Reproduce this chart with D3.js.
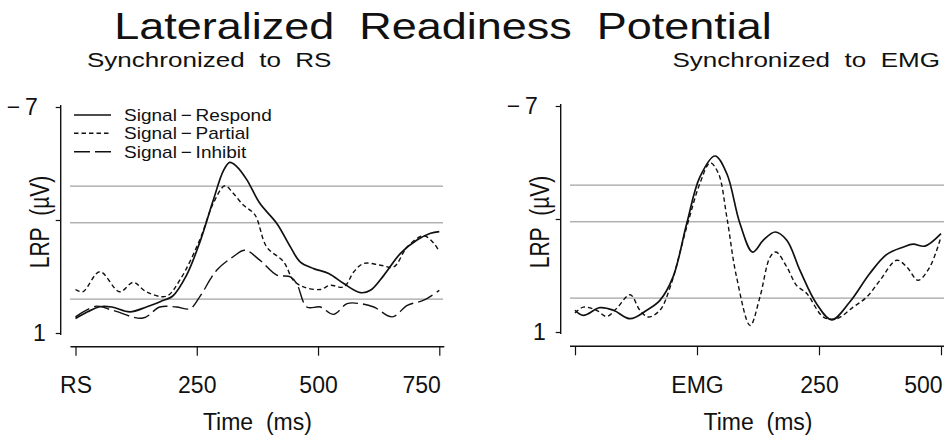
<!DOCTYPE html>
<html>
<head>
<meta charset="utf-8">
<script src="https://cdn.jsdelivr.net/npm/d3@7"></script>
<style>
  html, body { margin: 0; padding: 0; background: #fff; }
  svg { display: block; }
  text { font-family: "Liberation Sans", Arial, Helvetica, sans-serif; fill: #111; }
</style>
</head>
<body>
<svg id="chart" width="944" height="438"></svg>
<script>
// ---------------- DATA ----------------
const titleText = "Lateralized\u00a0\u00a0Readiness\u00a0\u00a0Potential";
const panelTitles = ["Synchronized\u00a0\u00a0to\u00a0\u00a0RS", "Synchronized\u00a0\u00a0to\u00a0\u00a0EMG"];
const seriesNames = ["Signal\u2009\u2212\u2009Respond", "Signal\u2009\u2212\u2009Partial", "Signal\u2009\u2212\u2009Inhibit"];
const yTicks = [-7, -3, 1];
const yTickLabels = {"-7": "\u2212\u20097", "-3": "", "1": "1"};
const refLines = [-4.2, -2.9, -0.2];

const leftXTicks = [0, 250, 500, 750];
const leftXTickLabels = ["RS", "250", "500", "750"];
const rightXTicks = [-250, 0, 250, 500];
const rightXTickLabels = ["", "EMG", "250", "500"];

// Synchronized to RS: [time (ms), LRP (µV)]
const leftRespond = [[0,0.49],[25,0.25],[50,0.07],[75,0.08],[112,0.25],[146,0.08],[180,-0.15],[200,-0.3],[229,-1.05],[256,-2.2],[284,-3.7],[305,-4.75],[318,-5.04],[332,-4.9],[353,-4.43],[380,-3.59],[415,-2.88],[443,-2.05],[463,-1.52],[491,-1.28],[522,-1.11],[553,-0.75],[587,-0.43],[608,-0.51],[636,-1.05],[670,-1.82],[704,-2.29],[732,-2.53],[750,-2.59]];
const leftPartial = [[0,-0.54],[15,-0.46],[50,-1.17],[91,-0.46],[119,-0.79],[146,-0.46],[187,-0.3],[215,-0.87],[256,-2.29],[284,-3.59],[308,-4.21],[325,-3.95],[346,-3.53],[370,-3.18],[394,-2.05],[429,-1.52],[449,-0.87],[470,-0.63],[505,-0.54],[525,-0.69],[553,-0.63],[574,-1.17],[594,-1.46],[629,-1.4],[656,-1.34],[684,-2.05],[718,-2.44],[739,-2.17],[750,-1.88]];
const leftInhibit = [[0,0.43],[43,0.05],[77,0.2],[139,0.47],[174,0.08],[208,0.08],[236,0.14],[256,-0.28],[291,-1.22],[325,-1.7],[349,-1.93],[380,-1.58],[415,-1.05],[443,-0.99],[456,-0.75],[477,0.08],[505,0.08],[532,0.34],[560,-0.04],[587,-0.04],[615,0.08],[653,0.43],[684,0.02],[718,-0.16],[750,-0.51]];

// Synchronized to EMG
const rightRespond = [[-250,0.23],[-233,0.41],[-199,0.14],[-171,0.23],[-137,0.53],[-103,0.23],[-76,-0.12],[-49,-0.95],[-21,-2.84],[6,-4.49],[37,-5.23],[61,-4.61],[88,-2.84],[114,-1.83],[136,-2.25],[160,-2.54],[184,-2.25],[211,-1.18],[245,0.0],[276,0.57],[313,-0.06],[354,-1.07],[389,-1.75],[423,-2.01],[443,-2.11],[467,-2.04],[500,-2.48]];
const rightPartial = [[-250,0.33],[-233,0.12],[-206,0.23],[-185,0.45],[-165,0.17],[-137,-0.32],[-117,0.23],[-100,0.47],[-76,0.23],[-55,-0.59],[-21,-2.72],[6,-4.26],[27,-4.99],[44,-4.61],[61,-3.08],[81,-0.95],[109,0.77],[129,-0.24],[150,-1.66],[162,-1.83],[184,-1.3],[204,-0.65],[225,-0.36],[259,0.47],[286,0.53],[320,0.12],[348,-0.24],[375,-0.83],[409,-1.54],[430,-1.3],[453,-0.83],[477,-1.3],[500,-2.37]];

// ---------------- STYLE ----------------
const ink = "#111";
const dashStyles = [null, "4.5,3", "16,5"];
const lineWidths = [1.7, 1.4, 1.4];

const svg = d3.select("#chart");

// Title
svg.append("text")
  .attr("transform", "translate(443,39) scale(1.25,1)")
  .attr("text-anchor", "middle")
  .attr("font-size", 36)
  .text(titleText);

function panel(cfg) {
  const x = d3.scaleLinear().domain(cfg.xDomain).range(cfg.xRange);
  const y = d3.scaleLinear().domain([-7, 1]).range(cfg.yRange);
  const g = svg.append("g");

  // reference lines
  g.selectAll("line.ref").data(refLines).join("line")
    .attr("x1", cfg.gridX[0]).attr("x2", cfg.gridX[1])
    .attr("y1", d => y(d)).attr("y2", d => y(d))
    .attr("stroke", "#8c8c8c").attr("stroke-width", 1);

  // y axis
  const ya = d3.axisLeft(y).tickValues(yTicks).tickSize(5).tickSizeOuter(0)
    .tickFormat(d => yTickLabels[String(d)]).tickPadding(14);
  const yg = g.append("g").attr("transform", `translate(${cfg.axisX},0)`).call(ya);
  yg.select(".domain").remove();
  yg.append("line").attr("x1", 0).attr("x2", 0)
    .attr("y1", cfg.yRange[0] - 2).attr("y2", cfg.yRange[1] + 2)
    .attr("stroke", ink).attr("stroke-width", 1.4);
  yg.selectAll(".tick line").attr("stroke", ink).attr("stroke-width", 1.2);
  yg.selectAll(".tick text").attr("font-size", 23).attr("fill", ink)
    .attr("font-family", '"Liberation Sans", Arial, sans-serif')
    .attr("dx", d => d === 1 ? 4 : -4);

  // x axis
  const xa = d3.axisBottom(x).tickValues(cfg.xTicks).tickSize(9).tickSizeOuter(0)
    .tickFormat((d, i) => cfg.xTickLabels[i]).tickPadding(21);
  const xg = g.append("g").attr("transform", `translate(0,${cfg.axisY})`).call(xa);
  xg.select(".domain").remove();
  xg.append("line").attr("y1", 0).attr("y2", 0)
    .attr("x1", cfg.xRange[0] - 5).attr("x2", cfg.xRange[1] + 5)
    .attr("stroke", ink).attr("stroke-width", 1.4);
  xg.selectAll(".tick line").attr("stroke", ink).attr("stroke-width", 1.2);
  xg.selectAll(".tick text").attr("font-size", 23).attr("fill", ink)
    .attr("font-family", '"Liberation Sans", Arial, sans-serif')
    .attr("text-anchor", (d, i) => i === cfg.xTicks.length - 1 ? "end" : "middle")
    .attr("dx", (d, i) => i === cfg.xTicks.length - 1 ? 1 : 0);

  // axis titles
  g.append("text")
    .attr("x", (cfg.xRange[0] + cfg.xRange[1]) / 2).attr("y", 430)
    .attr("text-anchor", "middle").attr("font-size", 23)
    .text("Time\u00a0\u00a0(ms)");
  g.append("text")
    .attr("transform", `translate(${cfg.axisX - 22},222) rotate(-90) scale(1,1.3)`)
    .attr("text-anchor", "middle").attr("dy", "0.36em").attr("font-size", 21)
    .text("LRP\u00a0\u00a0(\u00b5V)");

  // panel subtitle
  g.append("text")
    .attr("transform", `translate(${cfg.subX},67) scale(1.24,1)`)
    .attr("text-anchor", cfg.subAnchor).attr("font-size", 21)
    .text(cfg.subtitle);

  // series
  const line = d3.line().x(d => x(d[0])).y(d => y(d[1])).curve(d3.curveCatmullRom.alpha(0.5));
  cfg.series.forEach((s, i) => {
    g.append("path").datum(s.data)
      .attr("d", line)
      .attr("fill", "none").attr("stroke", ink)
      .attr("stroke-width", lineWidths[s.style])
      .attr("stroke-dasharray", dashStyles[s.style]);
  });
  return {x, y, g};
}

panel({
  xDomain: [0, 750], xRange: [75.5, 439.3], yRange: [107, 333],
  gridX: [70, 443], axisX: 60.7, axisY: 346.7,
  xTicks: leftXTicks, xTickLabels: leftXTickLabels,
  subtitle: panelTitles[0], subX: 87, subAnchor: "start",
  series: [{data: leftRespond, style: 0}, {data: leftPartial, style: 1}, {data: leftInhibit, style: 2}]
});

panel({
  xDomain: [-250, 500], xRange: [575, 941], yRange: [106, 332],
  gridX: [570, 944], axisX: 560.7, axisY: 346.3,
  xTicks: rightXTicks, xTickLabels: rightXTickLabels,
  subtitle: panelTitles[1], subX: 940, subAnchor: "end",
  series: [{data: rightRespond, style: 0}, {data: rightPartial, style: 1}]
});

// Legend
const legend = svg.append("g");
const rowsY = [115, 133.3, 151.7];
seriesNames.forEach((name, i) => {
  legend.append("line")
    .attr("x1", 74).attr("x2", 111).attr("y1", rowsY[i]).attr("y2", rowsY[i])
    .attr("stroke", ink).attr("stroke-width", lineWidths[i])
    .attr("stroke-dasharray", dashStyles[i]);
  legend.append("text")
    .attr("transform", `translate(124,${rowsY[i] + 6}) scale(1.12,1)`)
    .attr("font-size", 17)
    .text(name);
});
</script>
</body>
</html>
